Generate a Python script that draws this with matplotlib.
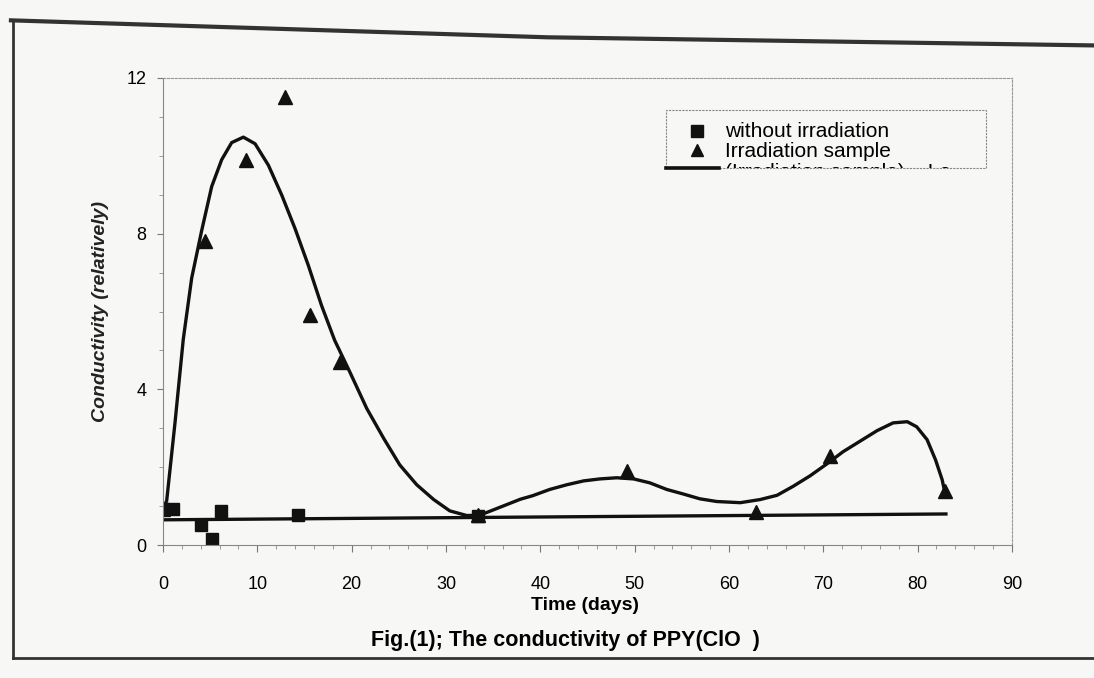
import numpy as np
import matplotlib
matplotlib.use("Agg")
import matplotlib.pyplot as plt
from matplotlib.lines import Line2D
from matplotlib.patches import Rectangle

plt.rcParams['font.family'] = ['Liberation Sans', 'DejaVu Sans']

# without irradiation (squares)
sq_days = [0, 1.1, 4.0, 5.2, 6.2, 14.3, 33.4]
sq_cond = [0.93, 0.94, 0.51, 0.16, 0.88, 0.78, 0.75]

# irradiation sample (triangles)
tri_days = [0, 4.4, 8.8, 12.9, 15.6, 18.8, 33.4, 49.2, 62.9, 70.7, 82.9]
tri_cond = [0.93, 7.8, 9.9, 11.5, 5.9, 4.7, 0.77, 1.9, 0.85, 2.3, 1.38]

# smooth curve drawn through the irradiation sample
curve_days = [0, 0.39, 1.27, 2.15, 3.04, 4.10, 5.16, 6.22, 7.28, 8.52, 9.76,
              11.17, 12.59, 14.0, 15.4, 16.8, 18.2, 19.8, 21.6, 23.4, 25.1,
              26.9, 28.7, 30.4, 32.2, 33.6, 35.7, 37.9, 39.2, 41.0, 42.8, 44.6,
              46.3, 48.1, 49.9, 51.6, 53.4, 55.2, 56.9, 58.7, 61.2, 63.3, 65.1,
              66.8, 68.6, 70.4, 72.1, 73.9, 75.7, 77.4, 78.9, 79.9, 81.0, 81.9,
              82.6, 82.9]
curve_cond = [0.93, 1.14, 3.14, 5.29, 6.86, 8.08, 9.21, 9.90, 10.34, 10.48, 10.31,
              9.76, 8.99, 8.13, 7.19, 6.16, 5.26, 4.45, 3.51, 2.74, 2.06,
              1.55, 1.17, 0.88, 0.76, 0.77, 0.97, 1.18, 1.27, 1.43, 1.55, 1.65,
              1.70, 1.73, 1.70, 1.60, 1.43, 1.31, 1.19, 1.12, 1.09, 1.17, 1.28,
              1.51, 1.78, 2.09, 2.40, 2.67, 2.94, 3.14, 3.17, 3.04, 2.71, 2.19,
              1.68, 1.34]

# near-flat line for the untreated sample
flat_days = [0, 83]
flat_cond = [0.65, 0.8]

fig = plt.figure(figsize=(10.94, 6.78), dpi=100, facecolor='#f7f7f5')
ax = fig.add_axes([0.149, 0.196, 0.776, 0.689])
ax.set_facecolor('#f7f7f5')

ax.plot(curve_days, curve_cond, color='#111111', lw=2.4, solid_capstyle='round',
        solid_joinstyle='round')
ax.plot(flat_days, flat_cond, color='#111111', lw=2.4)
ax.plot(sq_days, sq_cond, 's', color='#111111', ms=9)
ax.plot(tri_days, tri_cond, '^', color='#111111', ms=10)

ax.set_xlim(0, 90)
ax.set_ylim(0, 12)
ax.set_xticks(range(0, 91, 10))
ax.set_xticks(np.arange(0, 91, 2), minor=True)
ax.set_yticks([0, 4, 8, 12])
ax.set_yticks(range(0, 13), minor=True)
ax.tick_params(axis='x', which='major', length=5, width=0.8, color='#777777',
               pad=17, labelsize=13)
ax.tick_params(axis='y', which='major', length=4, width=0.8, color='#777777',
               pad=8, labelsize=13)
ax.tick_params(which='minor', length=3, width=0.6, color='#888888')
for s in ['top', 'right']:
    ax.spines[s].set_linestyle((0, (2, 1.5)))
    ax.spines[s].set_color('#999999')
    ax.spines[s].set_linewidth(0.8)
for s in ['left', 'bottom']:
    ax.spines[s].set_color('#888888')
    ax.spines[s].set_linewidth(0.8)
    ax.spines[s].set_linestyle((0, (3, 1)))

ax.set_xlabel('Time (days)', fontsize=14, fontweight='bold')
ax.xaxis.set_label_coords(0.497, -0.112)
ax.set_ylabel('Conductivity (relatively)', fontsize=14, fontstyle='italic',
              fontweight='bold', color='#222222')
ax.yaxis.set_label_coords(-0.064, 0.5)

# legend box (third entry cut off by the frame as in the print)
box = Rectangle((0.592, 0.807), 0.377, 0.124, transform=ax.transAxes,
                facecolor='#f7f7f5', edgecolor='#888888', lw=0.8,
                linestyle=(0, (2, 1)), zorder=5)
ax.add_patch(box)
ax.plot([0.629], [0.886], 's', color='#111111', ms=8, transform=ax.transAxes, zorder=6)
ax.plot([0.629], [0.846], '^', color='#111111', ms=9, transform=ax.transAxes, zorder=6)
ax.plot([0.592, 0.655], [0.807, 0.807], color='#111111', lw=2.6,
        transform=ax.transAxes, zorder=6)
ax.text(0.662, 0.886, 'without irradiation', transform=ax.transAxes,
        fontsize=15, va='center', zorder=6)
ax.text(0.662, 0.843, 'Irradiation sample', transform=ax.transAxes,
        fontsize=15, va='center', zorder=6)
t3 = ax.text(0.662, 0.797, '(Irradiation sample)    Lo', transform=ax.transAxes,
             fontsize=15, va='center', zorder=6)
t3.set_clip_path(box)
t3.set_clip_on(True)

fig.text(0.517, 0.056, 'Fig.(1); The conductivity of PPY(ClO  )', ha='center',
         va='center', fontsize=15.5, fontweight='bold')

# page frame of the printed figure
fig.add_artist(Line2D([0.01, 0.5, 1.0], [0.97, 0.945, 0.933], color='#333333', lw=3))
fig.add_artist(Line2D([0.012, 0.012], [0.97, 0.03], color='#333333', lw=2))
fig.add_artist(Line2D([0.012, 1.0], [0.03, 0.03], color='#333333', lw=2))

fig.savefig('out.png', dpi=100, facecolor=fig.get_facecolor())
